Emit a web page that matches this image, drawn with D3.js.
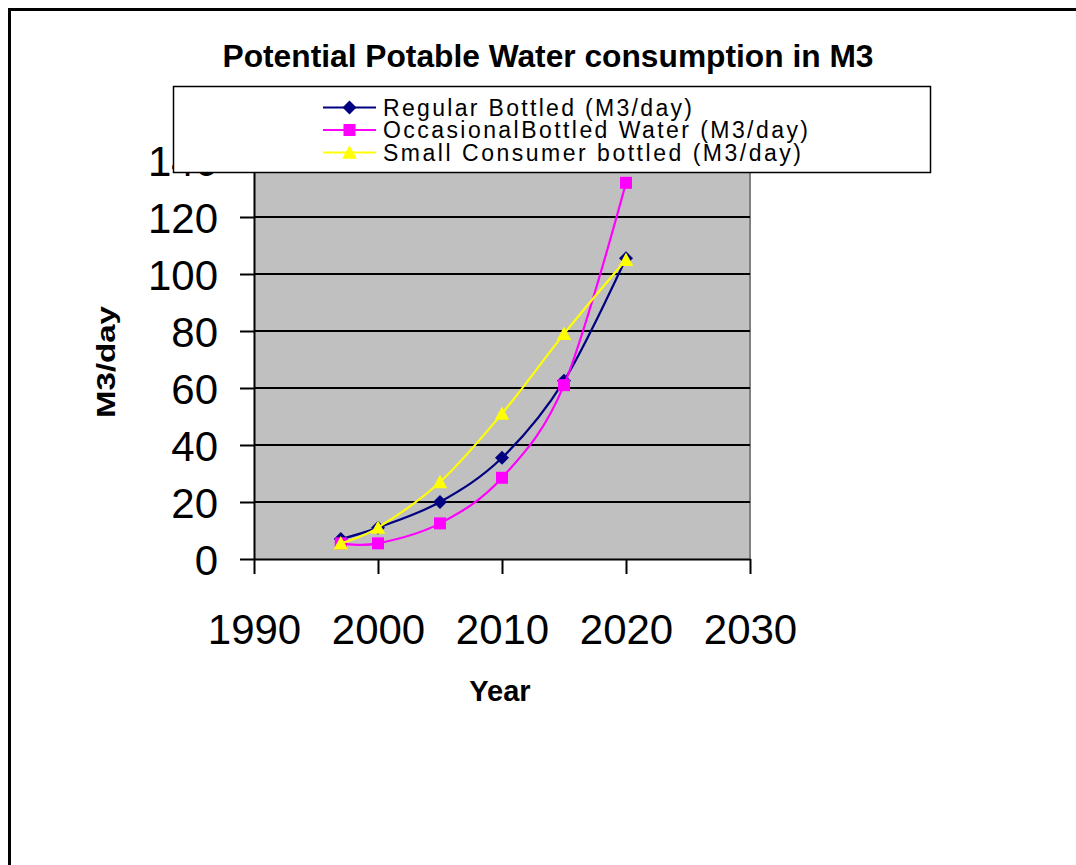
<!DOCTYPE html>
<html>
<head>
<meta charset="utf-8">
<script src="https://cdn.jsdelivr.net/npm/d3@7/dist/d3.min.js"></script>
<style>
  html, body { margin: 0; padding: 0; background: #fff; }
  svg { display: block; font-family: "Liberation Sans", Arial, sans-serif; }
</style>
</head>
<body>
<svg id="chart" width="1076" height="865"></svg>
<script>
// Year axis and value axis ticks
const years = [1997, 2000, 2005, 2010, 2015, 2020];
const xTicks = [1990, 2000, 2010, 2020, 2030];
const yTicks = [0, 20, 40, 60, 80, 100, 120, 140];

// Series values, M3/day
const regularBottled = [7, 11, 20, 35.5, 62.5, 105.5];
const occasionalBottled = [5.5, 5.5, 12.5, 28.5, 61, 132];
const smallConsumer = [5.5, 11, 27, 51, 79, 105];

const seriesNames = [
  "Regular Bottled (M3/day)",
  "OccasionalBottled Water (M3/day)",
  "Small Consumer bottled (M3/day)"
];

const titleText = "Potential Potable Water consumption in M3";
const xTitle = "Year";
const yTitle = "M3/day";

// Triangle marker centred on its bounding box
const triangleSym = {
  draw(ctx, size) {
    const r = Math.sqrt(size) / 2;
    ctx.moveTo(0, -r);
    ctx.lineTo(r, r * 0.85);
    ctx.lineTo(-r, r * 0.85);
    ctx.closePath();
  }
};

const series = [
  { name: seriesNames[0], values: regularBottled, color: "#000080", symbol: d3.symbolSquare, size: 98, rotate: 45 },
  { name: seriesNames[1], values: occasionalBottled, color: "#FF00FF", symbol: d3.symbolSquare, size: 144, rotate: 0 },
  { name: seriesNames[2], values: smallConsumer, color: "#FFFF00", symbol: triangleSym, size: 210, rotate: 0 }
];

const svg = d3.select("#chart");

// Outer chart frame (left and top edges)
svg.append("path")
  .attr("d", "M9.5,865 V9.5 H1076")
  .attr("fill", "none")
  .attr("stroke", "#000")
  .attr("stroke-width", 3);

const plot = { left: 254, right: 750, top: 160, bottom: 559 };

const x = d3.scaleLinear().domain([1990, 2030]).range([plot.left, plot.right]);
const y = d3.scaleLinear().domain([0, 140]).range([plot.bottom, plot.top]);

// Plot area
svg.append("rect")
  .attr("x", plot.left).attr("y", plot.top)
  .attr("width", plot.right - plot.left).attr("height", plot.bottom - plot.top)
  .attr("fill", "#C0C0C0");
svg.append("path")
  .attr("d", `M${plot.left},${plot.top} H${plot.right} V${plot.bottom}`)
  .attr("fill", "none").attr("stroke", "#808080").attr("stroke-width", 2);

// Horizontal gridlines
svg.append("g")
  .selectAll("line")
  .data(yTicks.filter(d => d > 0))
  .join("line")
  .attr("x1", plot.left).attr("x2", plot.right)
  .attr("y1", d => y(d)).attr("y2", d => y(d))
  .attr("stroke", "#000").attr("stroke-width", 2);

// Y axis
const yAxis = svg.append("g")
  .attr("transform", `translate(${plot.left},0)`)
  .call(d3.axisLeft(y).tickValues(yTicks).tickSize(14).tickSizeOuter(0).tickPadding(22).tickFormat(d3.format("d")));
yAxis.select(".domain").attr("stroke", "#000").attr("stroke-width", 2);
yAxis.selectAll(".tick line").attr("stroke", "#000").attr("stroke-width", 2);
yAxis.selectAll(".tick text")
  .attr("font-size", 42).attr("fill", "#000")
  .attr("font-family", "'Liberation Sans', Arial, sans-serif")
  .attr("dy", "0.36em");

// X axis
const xAxis = svg.append("g")
  .attr("transform", `translate(0,${plot.bottom})`)
  .call(d3.axisBottom(x).tickValues(xTicks).tickSize(15).tickSizeOuter(0).tickPadding(40).tickFormat(d3.format("d")));
xAxis.select(".domain").attr("stroke", "#000").attr("stroke-width", 2);
xAxis.selectAll(".tick line").attr("stroke", "#000").attr("stroke-width", 2);
xAxis.selectAll(".tick text")
  .attr("font-size", 42).attr("fill", "#000")
  .attr("font-family", "'Liberation Sans', Arial, sans-serif");

// Smoothed series lines with markers
const line = d3.line()
  .x((d, i) => x(years[i]))
  .y(d => y(d))
  .curve(d3.curveCardinal.tension(0));

series.forEach(s => {
  const g = svg.append("g");
  g.append("path")
    .attr("d", line(s.values))
    .attr("fill", "none")
    .attr("stroke", s.color)
    .attr("stroke-width", 2.2);
  g.selectAll("path.marker")
    .data(s.values)
    .join("path")
    .attr("class", "marker")
    .attr("d", d3.symbol().type(s.symbol).size(s.size))
    .attr("transform", (d, i) => `translate(${x(years[i])},${y(d)}) rotate(${s.rotate})`)
    .attr("fill", s.color);
});

// Titles
svg.append("text")
  .attr("x", 548).attr("y", 67)
  .attr("text-anchor", "middle")
  .attr("font-size", 31).attr("font-weight", "bold")
  .attr("textLength", 651).attr("lengthAdjust", "spacingAndGlyphs")
  .text(titleText);

svg.append("text")
  .attr("x", 500).attr("y", 701)
  .attr("text-anchor", "middle")
  .attr("font-size", 29).attr("font-weight", "bold")
  .text(xTitle);

svg.append("text")
  .attr("transform", "translate(115,362) rotate(-90)")
  .attr("text-anchor", "middle")
  .attr("font-size", 25).attr("font-weight", "bold")
  .attr("textLength", 112).attr("lengthAdjust", "spacingAndGlyphs")
  .text(yTitle);

// Legend
const legend = svg.append("g");
legend.append("rect")
  .attr("x", 173.5).attr("y", 86.5)
  .attr("width", 757).attr("height", 86)
  .attr("fill", "#fff").attr("stroke", "#000").attr("stroke-width", 1.5);

const legendRowY = [107.5, 130, 152.5];
const legendTextLen = [309, 425, 418];
series.forEach((s, i) => {
  const ly = legendRowY[i];
  legend.append("line")
    .attr("x1", 323).attr("x2", 376)
    .attr("y1", ly).attr("y2", ly)
    .attr("stroke", s.color).attr("stroke-width", 2);
  legend.append("path")
    .attr("d", d3.symbol().type(s.symbol).size(s.size))
    .attr("transform", `translate(349.5,${ly}) rotate(${s.rotate})`)
    .attr("fill", s.color);
  legend.append("text")
    .attr("x", 383).attr("y", ly + 8)
    .attr("font-size", 23)
    .attr("textLength", legendTextLen[i]).attr("lengthAdjust", "spacing")
    .text(s.name);
});
</script>
</body>
</html>
